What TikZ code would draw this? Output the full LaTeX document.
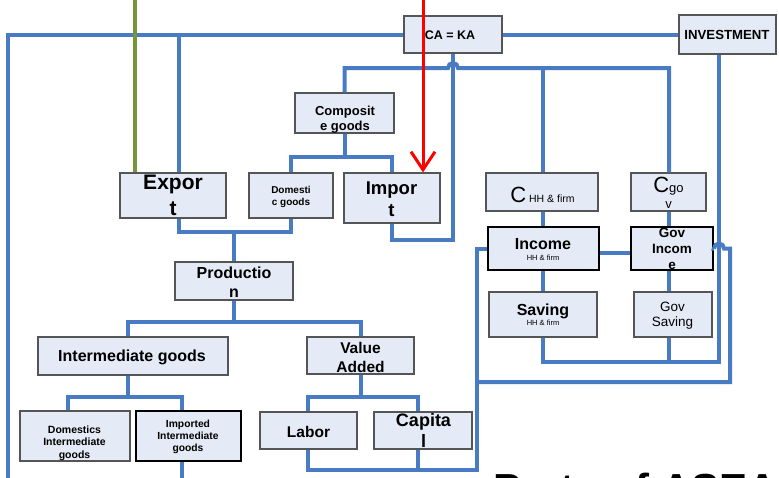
\documentclass[tikz,border=0pt]{standalone}
\usepackage{fontspec}
\setmainfont{Liberation Sans}
\usetikzlibrary{arrows.meta,calc}

\definecolor{linkblue}{RGB}{72,123,196}
\definecolor{boxfill}{RGB}{229,235,246}
\definecolor{boxedge}{RGB}{85,85,85}
\definecolor{olivegreen}{RGB}{119,147,60}

\newcommand{\fsz}[2]{\fontsize{#1}{#2}\selectfont}

\begin{document}
\begin{tikzpicture}[x=1pt,y=-1pt,
  place/.style n args={4}{minimum width={(#3-#1)*1pt}, minimum height={(#4-#2)*1pt},
    at={({(#1+#3)/2},{(#2+#4)/2})}},
  box/.style={draw=boxedge, fill=boxfill, line width=1.2pt, inner sep=0pt},
  keybox/.style={box, draw=black, line width=2.4pt},
  lbl/.style={inner sep=0pt, align=center, text=black},
  conn/.style={draw=linkblue, line width=4pt},
  greenline/.style={draw=olivegreen, line width=4pt},
  redline/.style={draw=red, line width=3pt, -{Straight Barb[length=18pt,width=24pt]}}]

\clip (0,0) rectangle (779,477);

% ---------- boxes ----------
\node[box, place={404}{16}{502}{53}] (ca) {};
\node[box, place={679}{15}{776}{54}] (inv) {};
\node[box, place={295}{93}{394}{133}] (comp) {};
\node[box, place={120}{173}{226}{218}] (exp) {};
\node[box, place={249}{173}{333}{218}] (dom) {};
\node[box, place={344}{173}{440}{223}] (imp) {};
\node[box, place={486}{173}{598}{211}] (chh) {};
\node[box, place={631}{173}{706}{211}] (cgov) {};
\node[keybox, place={488}{227}{599}{270}] (inc) {};
\node[keybox, place={631}{227}{713}{270}] (ginc) {};
\node[box, place={489}{292}{597}{337}] (sav) {};
\node[box, place={634}{292}{712}{337}] (gsav) {};
\node[box, place={175}{262}{293}{300}] (prod) {};
\node[box, place={38}{337}{228}{375}] (ig) {};
\node[box, place={307}{337}{414}{374}] (va) {};
\node[box, place={20}{411}{130}{461}] (dig) {};
\node[keybox, place={136}{411}{241}{461}] (iig) {};
\node[box, place={260}{412}{357}{449}] (lab) {};
\node[box, place={374}{412}{472}{449}] (cap) {};

% ---------- routing coordinates ----------
\coordinate (leftEnd) at (8,490);
\coordinate (xExp) at (179,0);
\coordinate (xHH) at (543,0);
\coordinate (xInv) at (719,0);
\coordinate (xGov) at (669,0);
\coordinate (xIG) at (128,0);
\coordinate (xDIG) at (68,0);
\coordinate (xIIG) at (182,0);
\coordinate (xLab) at (308,0);
\coordinate (xCap) at (418,0);
\coordinate (xLeftLoop) at (477,0);
\coordinate (xRightLoop) at (730,0);
\coordinate (yTop) at (0,68);
\coordinate (yMid) at (0,157);
\coordinate (yProd) at (0,232);
\coordinate (yImp) at (0,240);
\coordinate (ySplit) at (0,322);
\coordinate (ySav) at (0,362);
\coordinate (yLoop) at (0,382);
\coordinate (yLow) at (0,397);
\coordinate (yBot) at (0,470);
\coordinate (iigEnd) at (182,490);
\coordinate (greenTop) at (135,-5);
\coordinate (redTop) at (423,-5);

% ---------- connectors ----------
\draw[conn] (leftEnd) |- (ca.west);
\draw[conn] (exp.north -| xExp) -- (xExp |- ca.west);
\draw[conn] (ca.east) -- (inv.west);
\draw[conn] (inv.south -| xInv) -- (xInv |- ySav) -- (xHH |- ySav) -- (sav.south -| xHH);
\draw[conn] (gsav.south -| xGov) -- (xGov |- ySav);
\draw[conn] (ginc.south -| xGov) -- (gsav.north -| xGov);
\draw[conn] (cgov.south -| xGov) -- (ginc.north -| xGov);
\draw[conn] (cgov.north -| xGov) -- (xGov |- yTop)
  -- ($(ca.south |- yTop)+(5,0)$) arc[start angle=0, end angle=180, radius=5pt]
  -- (comp.north |- yTop) -- (comp.north);
\draw[conn] (chh.north -| xHH) -- (xHH |- yTop);
\draw[conn] (imp.south) -- (imp.south |- yImp) -- (ca.south |- yImp) -- (ca.south);
\draw[conn] (comp.south) -- (comp.south |- yMid);
\draw[conn] (dom.north) -- (dom.north |- yMid) -- (imp.north |- yMid) -- (imp.north);
\draw[conn] (exp.south -| xExp) -- (xExp |- yProd) -- (dom.south |- yProd) -- (dom.south);
\draw[conn] (prod.north) -- (prod.north |- yProd);
\draw[conn] (prod.south) -- (prod.south |- ySplit);
\draw[conn] (ig.north -| xIG) -- (xIG |- ySplit) -- (va.north |- ySplit) -- (va.north);
\draw[conn] (ig.south -| xIG) -- (xIG |- yLow);
\draw[conn] (dig.north -| xDIG) -- (xDIG |- yLow) -- (xIIG |- yLow) -- (iig.north -| xIIG);
\draw[conn] (iig.south -| xIIG) -- (iigEnd);
\draw[conn] (va.south) -- (va.south |- yLow);
\draw[conn] (lab.north -| xLab) -- (xLab |- yLow) -- (xCap |- yLow) -- (cap.north -| xCap);
\draw[conn] (lab.south -| xLab) -- (xLab |- yBot) -- (xLeftLoop |- yBot)
  -- (xLeftLoop |- inc.west) -- (inc.west);
\draw[conn] (cap.south -| xCap) -- (xCap |- yBot);
\draw[conn] (xLeftLoop |- yLoop) -- (xRightLoop |- yLoop) -- (xRightLoop |- ginc.east)
  -- ($(xInv |- ginc.east)+(5,0)$) arc[start angle=0, end angle=180, radius=5pt]
  -- (ginc.east);
\draw[conn] (chh.south -| xHH) -- (inc.north -| xHH);
\draw[conn] (inc.south -| xHH) -- (sav.north -| xHH);
\draw[conn] ([yshift=-4pt]inc.east) -- ([yshift=-4pt]inc.east -| ginc.west);

% ---------- labels ----------
\node[lbl, font=\bfseries\fsz{12.5}{14}] (caT) at (450,35) {CA = KA};
\node[lbl, font=\bfseries\fsz{13.2}{15}] (invT) at (727,34.5) {INVESTMENT};
\node[lbl, font=\bfseries\fsz{13}{15}] (compT) at (345,120) {Composit\\e goods};
\node[lbl, font=\bfseries\fsz{21}{26}] (expT) at (173,195.5) {Expor\\t};
\node[lbl, font=\bfseries\fsz{10}{12.5}] (domT) at (291,197) {Domesti\\c goods};
\node[lbl, font=\bfseries\fsz{18.5}{22}] (impT) at (391.5,199.5) {Impor\\t};
\node[lbl, anchor=base] (chhT) at (542.5,202)
  {{\fsz{22}{24}C} {\fsz{10.5}{12}HH \& firm}};
\node[lbl, font=\fsz{13}{16}] (cgovT) at (668.5,193) {{\fsz{22}{16}C}go\\v};
\node[lbl, font=\bfseries\fsz{16}{11}] (incT) at (543,249.5)
  {Income\\{\mdseries\fsz{7.5}{9}HH \& firm}};
\node[lbl, font=\bfseries\fsz{13.5}{16}] (gincT) at (672,249) {Gov\\Incom\\e};
\node[lbl, font=\bfseries\fsz{16}{10}] (savT) at (543,315)
  {Saving\\{\mdseries\fsz{7.5}{9}HH \& firm}};
\node[lbl, font=\fsz{13.5}{15}] (gsavT) at (672.5,316) {Gov\\Saving};
\node[lbl, font=\bfseries\fsz{16}{19}] (prodT) at (234,282) {Productio\\n};
\node[lbl, font=\bfseries\fsz{16}{19}] (igT) at (132,357.5) {Intermediate goods};
\node[lbl, font=\bfseries\fsz{15.5}{19}] (vaT) at (360.5,357) {Value\\Added};
\node[lbl, font=\bfseries\fsz{10.5}{12.5}] (digT) at (74.5,443) {Domestics\\Intermediate\\goods};
\node[lbl, font=\bfseries\fsz{10.3}{12}] (iigT) at (188,437) {Imported\\Intermediate\\goods};
\node[lbl, font=\bfseries\fsz{15.5}{18}] (labT) at (308.5,432) {Labor};
\node[lbl, font=\bfseries\fsz{18}{21}] (capT) at (423.5,430.5) {Capita\\l};

% ---------- overlaid feeds ----------
\draw[greenline] (greenTop) -- (greenTop |- exp.north);
\draw[redline] (redTop) -- (redTop |- imp.north);

% ---------- caption below, running off the lower edge ----------
\node[lbl, anchor=base west, font=\bfseries\fsz{42}{48}] (capline) at (493,503) {Parts of ASEAN};

\end{tikzpicture}
\end{document}
